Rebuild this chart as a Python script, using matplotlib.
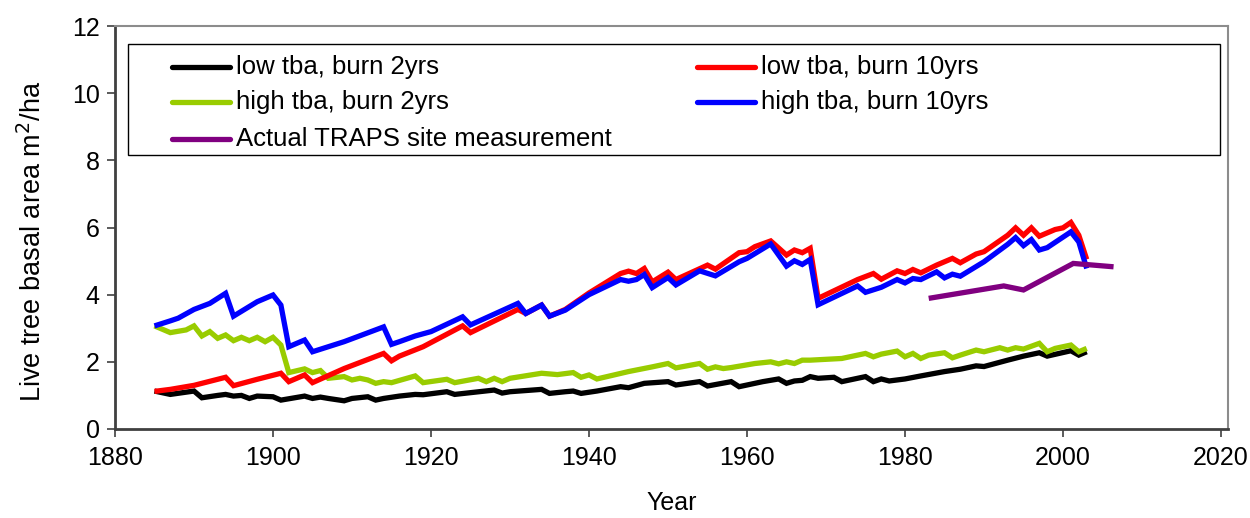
import matplotlib
matplotlib.use("Agg")
import matplotlib.pyplot as plt
from matplotlib.lines import Line2D
from matplotlib.patches import Rectangle

plt.rcParams["font.family"] = ["Liberation Sans", "DejaVu Sans"]

# low tba, burn 2yrs
low2_years = [1885, 1887, 1890, 1891, 1893, 1894, 1895, 1896, 1897, 1898, 1900, 1901,
              1904, 1905, 1906, 1907, 1909, 1910, 1912, 1913, 1914, 1916, 1918, 1919,
              1922, 1923, 1928, 1929, 1930, 1934, 1935, 1937, 1938, 1939, 1941, 1944,
              1945, 1947, 1950, 1951, 1954, 1955, 1958, 1959, 1962, 1964, 1965, 1966,
              1967, 1968, 1969, 1971, 1972, 1975, 1976, 1977, 1978, 1980, 1982, 1985,
              1987, 1989, 1990, 1993, 1995, 1997, 1998, 2001, 2002, 2003]
low2_vals = [1.13, 1.03, 1.13, 0.93, 1.00, 1.03, 0.98, 1.00, 0.91, 0.98, 0.96, 0.86,
             0.98, 0.91, 0.95, 0.91, 0.84, 0.91, 0.96, 0.86, 0.91, 0.98, 1.03, 1.02,
             1.11, 1.03, 1.16, 1.07, 1.11, 1.18, 1.06, 1.11, 1.13, 1.06, 1.13, 1.26,
             1.23, 1.36, 1.41, 1.31, 1.41, 1.28, 1.41, 1.26, 1.41, 1.49, 1.36, 1.43,
             1.45, 1.56, 1.51, 1.54, 1.41, 1.56, 1.41, 1.49, 1.43, 1.49, 1.58, 1.71,
             1.78, 1.88, 1.86, 2.05, 2.17, 2.27, 2.17, 2.33, 2.20, 2.30]

# low tba, burn 10yrs
low10_years = [1885, 1887, 1890, 1894, 1895, 1898, 1901, 1902, 1904, 1905, 1909, 1914,
               1915, 1916, 1919, 1924, 1925, 1931, 1932, 1934, 1935, 1937, 1940, 1944,
               1945, 1946, 1947, 1948, 1950, 1951, 1955, 1956, 1959, 1960, 1961, 1963,
               1965, 1966, 1967, 1968, 1969, 1974, 1976, 1977, 1979, 1980, 1981, 1982,
               1984, 1985, 1986, 1987, 1989, 1990, 1993, 1994, 1995, 1996, 1997, 1999,
               2000, 2001, 2002, 2003]
low10_vals = [1.12, 1.18, 1.30, 1.54, 1.29, 1.48, 1.66, 1.41, 1.61, 1.38, 1.80, 2.25,
              2.03, 2.17, 2.45, 3.07, 2.87, 3.56, 3.44, 3.69, 3.36, 3.56, 4.05, 4.63,
              4.70, 4.63, 4.78, 4.38, 4.67, 4.45, 4.88, 4.76, 5.25, 5.28, 5.43, 5.60,
              5.18, 5.33, 5.25, 5.38, 3.89, 4.45, 4.63, 4.46, 4.71, 4.63, 4.75, 4.65,
              4.88, 4.98, 5.08, 4.95, 5.21, 5.28, 5.77, 5.99, 5.77, 5.99, 5.74, 5.94,
              5.99, 6.15, 5.77, 5.05]

# high tba, burn 2yrs
high2_years = [1885, 1887, 1889, 1890, 1891, 1892, 1893, 1894, 1895, 1896, 1897, 1898,
               1899, 1900, 1901, 1902, 1904, 1905, 1906, 1907, 1909, 1910, 1911, 1912,
               1913, 1914, 1915, 1918, 1919, 1922, 1923, 1926, 1927, 1928, 1929, 1930,
               1934, 1936, 1938, 1939, 1940, 1941, 1945, 1948, 1950, 1951, 1954, 1955,
               1956, 1957, 1958, 1959, 1961, 1963, 1964, 1965, 1966, 1967, 1968, 1972,
               1975, 1976, 1977, 1979, 1980, 1981, 1982, 1983, 1985, 1986, 1987, 1989,
               1990, 1992, 1993, 1994, 1995, 1997, 1998, 1999, 2001, 2002, 2003]
high2_vals = [3.07, 2.87, 2.95, 3.07, 2.77, 2.90, 2.70, 2.80, 2.63, 2.73, 2.63, 2.73,
              2.60, 2.73, 2.50, 1.68, 1.79, 1.68, 1.74, 1.51, 1.56, 1.46, 1.51, 1.46,
              1.36, 1.41, 1.38, 1.58, 1.38, 1.48, 1.38, 1.51, 1.41, 1.51, 1.41, 1.51,
              1.66, 1.62, 1.68, 1.54, 1.61, 1.49, 1.71, 1.85, 1.95, 1.82, 1.95, 1.78,
              1.85, 1.80, 1.83, 1.87, 1.95, 2.00, 1.94, 2.00, 1.95, 2.05, 2.05, 2.10,
              2.25, 2.15, 2.23, 2.32, 2.15, 2.25, 2.10, 2.20, 2.27, 2.12, 2.20, 2.35,
              2.30, 2.42, 2.35, 2.42, 2.38, 2.55, 2.30, 2.40, 2.50, 2.30, 2.40]

# high tba, burn 10yrs
high10_years = [1885, 1887, 1888, 1890, 1892, 1894, 1895, 1898, 1900, 1901, 1902, 1904,
                1905, 1909, 1914, 1915, 1916, 1918, 1920, 1924, 1925, 1931, 1932, 1934,
                1935, 1937, 1940, 1944, 1945, 1946, 1947, 1948, 1950, 1951, 1954, 1956,
                1959, 1960, 1963, 1965, 1966, 1967, 1968, 1969, 1974, 1975, 1977, 1979,
                1980, 1981, 1982, 1984, 1985, 1986, 1987, 1990, 1993, 1994, 1995, 1996,
                1997, 1998, 2001, 2002, 2003]
high10_vals = [3.07, 3.22, 3.30, 3.56, 3.74, 4.04, 3.36, 3.79, 3.99, 3.69, 2.45, 2.65,
               2.30, 2.60, 3.04, 2.52, 2.60, 2.77, 2.90, 3.34, 3.10, 3.74, 3.44, 3.69,
               3.36, 3.54, 4.00, 4.45, 4.40, 4.45, 4.60, 4.21, 4.51, 4.29, 4.71, 4.56,
               4.98, 5.08, 5.51, 4.85, 5.01, 4.90, 5.05, 3.70, 4.26, 4.07, 4.22, 4.45,
               4.35, 4.48, 4.45, 4.68, 4.50, 4.61, 4.55, 4.98, 5.50, 5.70, 5.46, 5.64,
               5.33, 5.40, 5.87, 5.57, 4.78]

# Actual TRAPS site measurement
site_years = [1983, 1992.5, 1995, 2001.3, 2006.4]
site_vals = [3.89, 4.26, 4.14, 4.93, 4.83]

series = {
    "low2": ("low tba, burn 2yrs", low2_years, low2_vals, "#000000"),
    "low10": ("low tba, burn 10yrs", low10_years, low10_vals, "#FF0000"),
    "high2": ("high tba, burn 2yrs", high2_years, high2_vals, "#99CC00"),
    "high10": ("high tba, burn 10yrs", high10_years, high10_vals, "#0000FF"),
    "site": ("Actual TRAPS site measurement", site_years, site_vals, "#800080"),
}
draw_order = ["low2", "high2", "low10", "high10", "site"]

x_ticks = [1880, 1900, 1920, 1940, 1960, 1980, 2000, 2020]
y_ticks = [0, 2, 4, 6, 8, 10, 12]

FS = 18
LEG_FS = 18.5
LW = 3.8
W, H = 1250, 518
fig = plt.figure(figsize=(W / 100, H / 100), dpi=100)
ax = fig.add_axes([115 / W, 1 - 429 / H, (1228 - 115) / W, (429 - 26) / H])

for key in draw_order:
    label, xs, ys, color = series[key]
    ax.plot(xs, ys, color=color, lw=LW, solid_joinstyle="miter",
            solid_capstyle="butt", label=label)

ax.set_xlim(1880, 2020 + (1228 - 1221) / 7.9)
ax.set_ylim(0, 12)
ax.set_xticks(x_ticks)
ax.set_yticks(y_ticks)
ax.tick_params(axis="both", direction="out", length=6, width=1.2, labelsize=FS,
               color="#404040")
ax.tick_params(axis="x", pad=6)
ax.tick_params(axis="y", pad=5)

for side in ("left", "bottom"):
    ax.spines[side].set_color("#404040")
    ax.spines[side].set_linewidth(2)
for side in ("top", "right"):
    ax.spines[side].set_color("#8c8c8c")
    ax.spines[side].set_linewidth(1.5)

ax.set_xlabel("Year", fontsize=FS, labelpad=15)
ax.set_ylabel("Live tree basal area m$^2$/ha", fontsize=19.5)
ax.yaxis.set_label_coords((33 - 115) / (1228 - 115), (429 - 241) / (429 - 26))
ax.yaxis.label.set_va("center")


def fx(px):
    return px / W


def fy(py):
    return 1 - py / H


# Legend box with two columns of entries
fig.patches.append(Rectangle((fx(128), fy(155)), fx(1220) - fx(128), fy(44) - fy(155),
                             transform=fig.transFigure, fill=True, facecolor="white",
                             edgecolor="black", lw=1.0, zorder=5))
legend_layout = [
    ("low2", 172, 67), ("low10", 697, 67),
    ("high2", 172, 102), ("high10", 697, 102),
    ("site", 172, 139),
]
for key, x0, yrow in legend_layout:
    label, _, _, color = series[key]
    fig.add_artist(Line2D([fx(x0), fx(x0 + 58)], [fy(yrow), fy(yrow)],
                          transform=fig.transFigure, color=color, lw=LW,
                          solid_capstyle="round", zorder=6))
    fig.text(fx(x0 + 64), fy(yrow), label, fontsize=LEG_FS, va="center", ha="left",
             zorder=6)

fig.savefig("out.png", dpi=100)
